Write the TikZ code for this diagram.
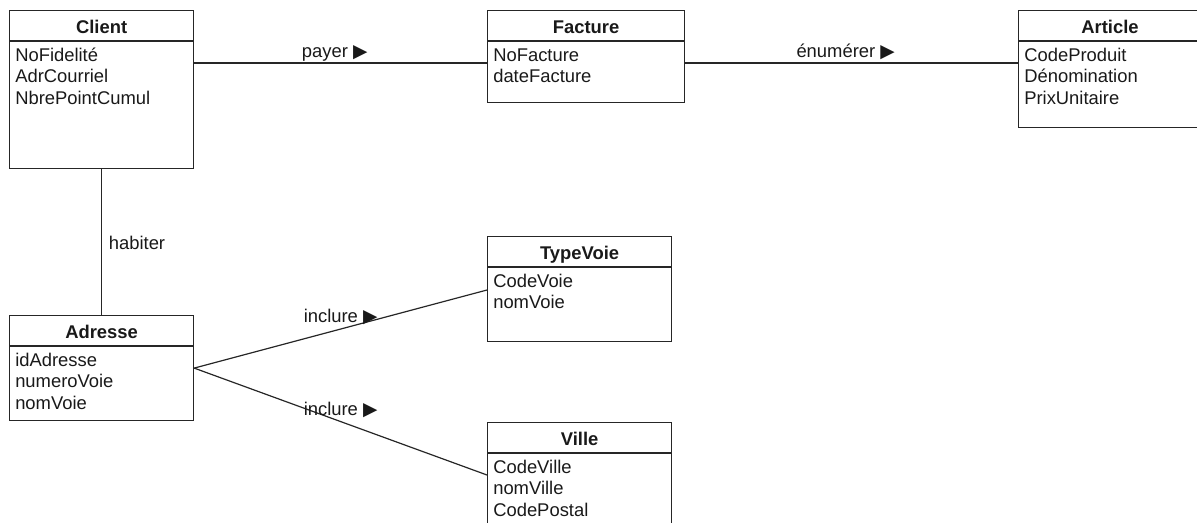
\documentclass[tikz,border=0pt]{standalone}
\usepackage{fontspec}
\setmainfont{Liberation Sans}
\newfontfamily\symfont{DejaVu Sans}
\usetikzlibrary{calc}
\newcommand{\px}{0.75pt}
\newcommand{\tri}{{\symfont\fontsize{14}{14}\selectfont ▶}}
\tikzset{
  classbox/.style={draw=black!85, line width=1.2*\px, anchor=north west, inner sep=0pt},
  classrule/.style={draw=black!85, line width=1.2*\px},
  classtitle/.style={anchor=base, inner sep=0pt, text=black!90, font=\fontsize{13.8}{16}\selectfont\bfseries},
  classattr/.style={anchor=base west, inner sep=0pt, text=black!90, font=\fontsize{13.8}{16}\selectfont},
  assoc/.style={draw=black!85, line width=1.2*\px},
  assoclabel/.style={anchor=base, inner sep=0pt, text=black!90, font=\fontsize{13.8}{16}\selectfont},
}
\begin{document}
\begin{tikzpicture}[x=0.75pt,y=0.75pt,yscale=-1,xscale=1]
\useasboundingbox (0,0) rectangle (1197,522);
%Class Client
\node[classbox, minimum width=184*\px, minimum height=158*\px] (client) at (9,10) {};
\draw[classrule] ($(client.north west)+(0,31)$) -- ($(client.north east)+(0,31)$);
\node[classtitle] (client-title) at ($(client.north)+(0,23)$) {Client};
\foreach \a [count=\i from 0] in {NoFidelité,AdrCourriel,NbrePointCumul}
  \node[classattr] (client-a\i) at ($(client.north west)+(6,51+21.5*\i)$) {\a};
%Class Facture
\node[classbox, minimum width=197*\px, minimum height=92*\px] (facture) at (487,10) {};
\draw[classrule] ($(facture.north west)+(0,31)$) -- ($(facture.north east)+(0,31)$);
\node[classtitle] (facture-title) at ($(facture.north)+(0,23)$) {Facture};
\foreach \a [count=\i from 0] in {NoFacture,dateFacture}
  \node[classattr] (facture-a\i) at ($(facture.north west)+(6,51+21.5*\i)$) {\a};
%Class Article
\node[classbox, minimum width=190*\px, minimum height=117*\px] (article) at (1018,10) {};
\draw[classrule] ($(article.north west)+(0,31)$) -- ($(article.north east)+(0,31)$);
\node[classtitle] (article-title) at ($(article.north west)+(92,23)$) {Article};
\foreach \a [count=\i from 0] in {CodeProduit,Dénomination,PrixUnitaire}
  \node[classattr] (article-a\i) at ($(article.north west)+(6,51+21.5*\i)$) {\a};
%Class Adresse
\node[classbox, minimum width=184*\px, minimum height=105*\px] (adresse) at (9,315) {};
\draw[classrule] ($(adresse.north west)+(0,31)$) -- ($(adresse.north east)+(0,31)$);
\node[classtitle] (adresse-title) at ($(adresse.north)+(0,23)$) {Adresse};
\foreach \a [count=\i from 0] in {idAdresse,numeroVoie,nomVoie}
  \node[classattr] (adresse-a\i) at ($(adresse.north west)+(6,51+21.5*\i)$) {\a};
%Class TypeVoie
\node[classbox, minimum width=184*\px, minimum height=105*\px] (typevoie) at (487,236) {};
\draw[classrule] ($(typevoie.north west)+(0,31)$) -- ($(typevoie.north east)+(0,31)$);
\node[classtitle] (typevoie-title) at ($(typevoie.north)+(0,23)$) {TypeVoie};
\foreach \a [count=\i from 0] in {CodeVoie,nomVoie}
  \node[classattr] (typevoie-a\i) at ($(typevoie.north west)+(6,51+21.5*\i)$) {\a};
%Class Ville
\node[classbox, minimum width=184*\px, minimum height=110*\px] (ville) at (487,422) {};
\draw[classrule] ($(ville.north west)+(0,31)$) -- ($(ville.north east)+(0,31)$);
\node[classtitle] (ville-title) at ($(ville.north)+(0,23)$) {Ville};
\foreach \a [count=\i from 0] in {CodeVille,nomVille,CodePostal}
  \node[classattr] (ville-a\i) at ($(ville.north west)+(6,51+21.5*\i)$) {\a};
%Line ends
\coordinate (client-e) at ($(client.north east)+(0,53)$);
\coordinate (facture-w) at ($(facture.north west)+(0,53)$);
\coordinate (facture-e) at ($(facture.north east)+(0,53)$);
\coordinate (article-w) at ($(article.north west)+(0,53)$);
\coordinate (typevoie-w) at ($(typevoie.north west)+(0,54)$);
\coordinate (ville-w) at ($(ville.north west)+(0,53)$);
%Associations
\draw[assoc] (client-e) -- (facture-w);
\node[assoclabel] (payer) at ($(client-e)!0.48!(facture-w)+(0,-6)$) {payer \tri};
\draw[assoc] (facture-e) -- (article-w);
\node[assoclabel] (enumerer) at ($(facture-e)!0.482!(article-w)+(0,-6)$) {énumérer \tri};
\draw[assoc] (client.south) -- (adresse.north);
\node[assoclabel, anchor=base west] (habiter) at ($(client.south)!0.55!(adresse.north)+(7,0)$) {habiter};
\draw[assoc] (adresse.east) -- (typevoie-w);
\node[assoclabel] (inclure-voie) at ($(adresse.east)!0.5!(typevoie-w)+(0,-7)$) {inclure \tri};
\draw[assoc] (adresse.east) -- (ville-w);
\node[assoclabel] (inclure-ville) at ($(adresse.east)!0.5!(ville-w)+(0,-6)$) {inclure \tri};
\end{tikzpicture}
\end{document}
